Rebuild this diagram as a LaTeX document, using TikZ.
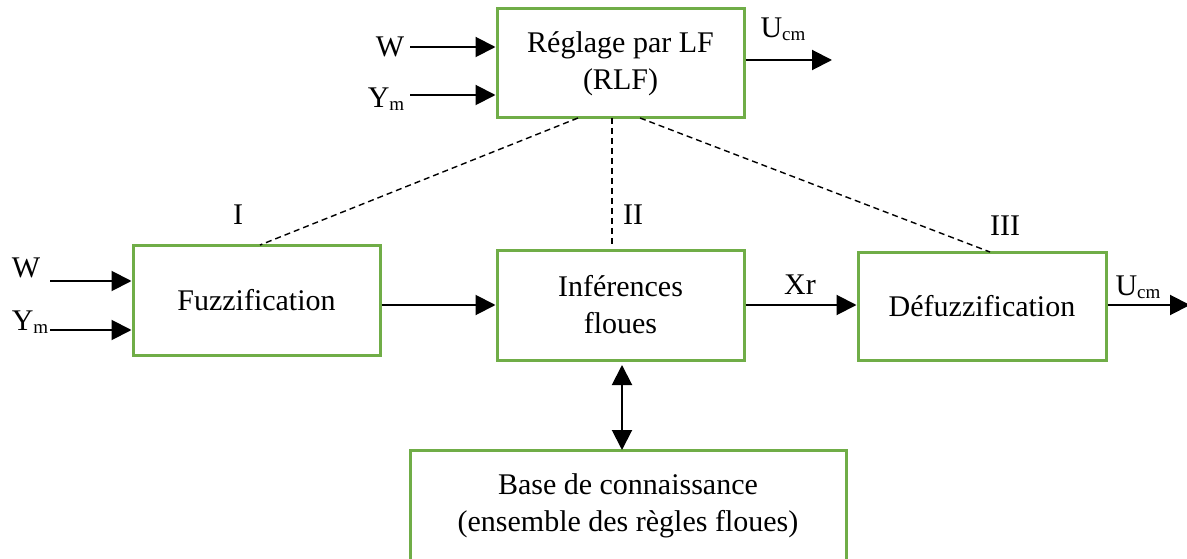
\documentclass[tikz,border=0pt]{standalone}
\usepackage{fontspec}
\setmainfont{Liberation Serif}
\usetikzlibrary{arrows.meta}
\definecolor{boxgreen}{RGB}{112,173,71}
\newcommand{\mysub}[1]{\raisebox{-0.25ex}{\fontsize{19}{19}\selectfont #1}}
\begin{document}
\begin{tikzpicture}[x=1pt,y=-1pt,
  blk/.style={draw=boxgreen,line width=3pt,fill=white,align=center,inner sep=0pt,
    font=\fontsize{30}{37}\selectfont},
  lbl/.style={inner sep=0pt,font=\fontsize{30}{35}\selectfont},
  arr/.style={line width=2pt,-{Triangle[length=20pt,width=20pt]}},
  darr/.style={line width=2pt,{Triangle[length=20pt,width=20pt]}-{Triangle[length=20pt,width=20pt]}},
  dsh/.style={line width=1.4pt,dash pattern=on 6pt off 4pt}]
\useasboundingbox (0,0) rectangle (1187,559);
\node[blk,minimum width=247pt,minimum height=109pt] (rlf) at (620.5,63.5) {Réglage par LF\\(RLF)};
\node[blk,minimum width=247pt,minimum height=110pt] (fuz) at (256.5,300) {Fuzzification};
\node[blk,minimum width=247pt,minimum height=110pt] (inf) at (620.5,305) {Inférences\\floues};
\node[blk,minimum width=248pt,minimum height=108pt] (def) at (982,306) {Défuzzification};
\node[blk,minimum width=436pt,minimum height=112pt] (base) at (628,506) {Base de connaissance\\(ensemble des règles floues)};
\node[lbl] (w1) at (390,47) {W};
\node[lbl] (y1) at (386,99) {Y\mysub{m}};
\node[lbl] (u1) at (783,29) {U\mysub{cm}};
\node[lbl] (l1) at (238,215) {I};
\node[lbl] (l2) at (633,215) {II};
\node[lbl] (l3) at (1005,226) {III};
\node[lbl] (w2) at (26,268) {W};
\node[lbl] (y2) at (30,322) {Y\mysub{m}};
\node[lbl] (xr) at (800,285) {Xr};
\node[lbl] (u2) at (1138,287) {U\mysub{cm}};
\coordinate (w1s) at (410,47);
\coordinate (y1s) at (410,95);
\coordinate (u1e) at (832,60);
\coordinate (w2s) at (50,281);
\coordinate (y2s) at (50,330);
\coordinate (u2e) at (1190,305);
\coordinate (d1a) at (578,118);
\coordinate (d2a) at (612,118);
\coordinate (d3a) at (640,118);
\coordinate (d1b) at (260,245);
\coordinate (d2b) at (612,245);
\coordinate (d3b) at (990,252);
\draw[arr] (w1s) -- (w1s -| rlf.west);
\draw[arr] (y1s) -- (y1s -| rlf.west);
\draw[arr] (rlf.east |- u1e) -- (u1e);
\draw[arr] (w2s) -- (w2s -| fuz.west);
\draw[arr] (y2s) -- (y2s -| fuz.west);
\draw[arr] (fuz.east |- 0,305) -- (inf.west |- 0,305);
\draw[arr] (inf.east |- 0,305) -- (def.west |- 0,305);
\draw[arr] (def.east |- u2e) -- (u2e);
\draw[darr] (622,365) -- (622,450);
\draw[dsh] (d1a) -- (d1b);
\draw[dsh] (d2a) -- (d2b);
\draw[dsh] (d3a) -- (d3b);
\end{tikzpicture}
\end{document}
